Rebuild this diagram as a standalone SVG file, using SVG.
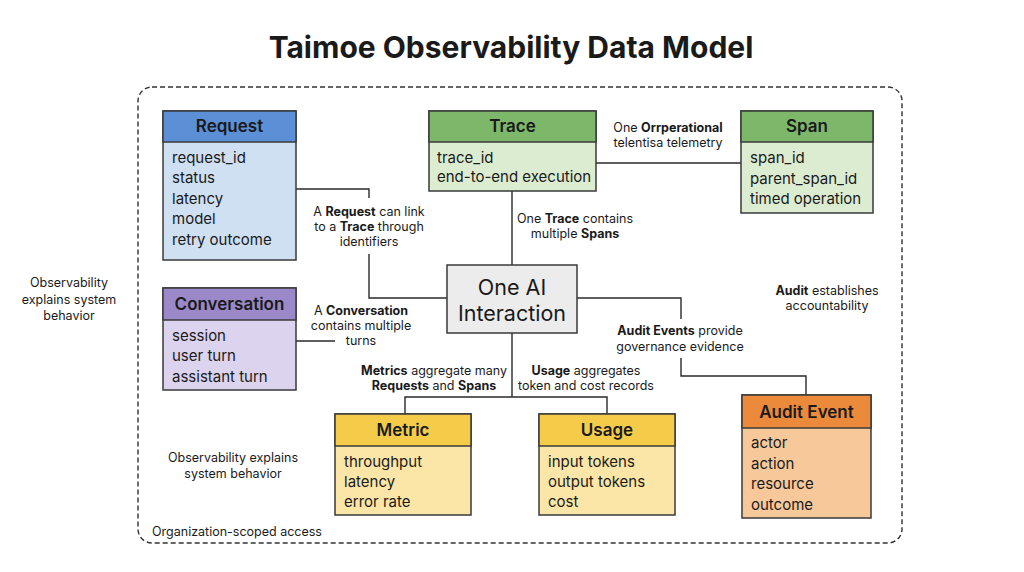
<svg xmlns="http://www.w3.org/2000/svg" width="1024" height="572" viewBox="0 0 1024 572">
<style>
text{font-family:Inter,"Noto Sans","Liberation Sans",sans-serif;fill:#1a1a1a}
.title{font-size:30px;font-weight:700;text-anchor:middle}
.hd{font-size:17px;font-weight:600;text-anchor:middle}
.fd{font-size:15px}
.lb{font-size:12.5px;text-anchor:middle}
.b{font-weight:700}
.box{stroke:#3a3a3a;stroke-width:1.5}
.conn{fill:none;stroke:#2a2a2a;stroke-width:1.4}
</style>
<rect width="1024" height="572" fill="#ffffff"/>
<text class="title" x="511" y="58">Taimoe Observability Data Model</text>
<rect x="138" y="87" width="764" height="456" rx="14" fill="none" stroke="#333" stroke-width="1.4" stroke-dasharray="5,3"/>

<g id="connectors">
<polyline class="conn" points="296,189 369,189 369,198"/>
<polyline class="conn" points="369,254 369,298 447,298"/>
<line class="conn" x1="596" y1="163" x2="741" y2="163"/>
<line class="conn" x1="512" y1="191" x2="512" y2="265"/>
<line class="conn" x1="296" y1="341" x2="335" y2="341"/>
<polyline class="conn" points="512,333 512,397"/>
<polyline class="conn" points="405,414 405,397 607,397 607,414"/>
<polyline class="conn" points="577,298 681,298 681,319"/>
<polyline class="conn" points="681,358 681,376 806,376 806,395"/>
</g>

<g id="labels">
<text class="lb" x="369" y="216">A <tspan class="b">Request</tspan> can link</text>
<text class="lb" x="369" y="231">to a <tspan class="b">Trace</tspan> through</text>
<text class="lb" x="369" y="246">identifiers</text>
<text class="lb" x="668" y="132">One <tspan class="b">Orrperational</tspan></text>
<text class="lb" x="668" y="147">telentisa telemetry</text>
<text class="lb" x="575" y="223">One <tspan class="b">Trace</tspan> contains</text>
<text class="lb" x="575" y="238">multiple <tspan class="b">Spans</tspan></text>
<text class="lb" x="361" y="315">A <tspan class="b">Conversation</tspan></text>
<text class="lb" x="361" y="330">contains multiple</text>
<text class="lb" x="361" y="345">turns</text>
<text class="lb" x="434" y="375"><tspan class="b">Metrics</tspan> aggregate many</text>
<text class="lb" x="434" y="390"><tspan class="b">Requests</tspan> and <tspan class="b">Spans</tspan></text>
<text class="lb" x="586" y="375"><tspan class="b">Usage</tspan> aggregates</text>
<text class="lb" x="586" y="390">token and cost records</text>
<text class="lb" x="680" y="335"><tspan class="b">Audit Events</tspan> provide</text>
<text class="lb" x="680" y="351">governance evidence</text>
<text class="lb" x="827" y="295"><tspan class="b">Audit</tspan> establishes</text>
<text class="lb" x="827" y="310">accountability</text>
<text class="lb" x="69" y="287">Observability</text>
<text class="lb" x="69" y="304">explains system</text>
<text class="lb" x="69" y="320">behavior</text>
<text class="lb" x="233" y="462">Observability explains</text>
<text class="lb" x="233" y="478">system behavior</text>
<text class="lb" x="152" y="536" style="text-anchor:start">Organization-scoped access</text>
</g>

<g id="request">
<rect class="box" x="163" y="111" width="133" height="149" fill="#cfe0f3"/>
<rect class="box" x="163" y="111" width="133" height="31" fill="#5b8fd6"/>
<text class="hd" x="229.5" y="132">Request</text>
<text class="fd" x="172" y="163">request_id</text>
<text class="fd" x="172" y="183">status</text>
<text class="fd" x="172" y="204">latency</text>
<text class="fd" x="172" y="224">model</text>
<text class="fd" x="172" y="245">retry outcome</text>
</g>

<g id="trace">
<rect class="box" x="429" y="111" width="167" height="80" fill="#dbecd1"/>
<rect class="box" x="429" y="111" width="167" height="31" fill="#7db86a"/>
<text class="hd" x="512.5" y="132">Trace</text>
<text class="fd" x="437" y="163">trace_id</text>
<text class="fd" x="437" y="182">end-to-end execution</text>
</g>

<g id="span">
<rect class="box" x="741" y="111" width="132" height="102" fill="#dbecd1"/>
<rect class="box" x="741" y="111" width="132" height="31" fill="#7db86a"/>
<text class="hd" x="807" y="132">Span</text>
<text class="fd" x="750" y="163">span_id</text>
<text class="fd" x="750" y="184">parent_span_id</text>
<text class="fd" x="750" y="204">timed operation</text>
</g>

<g id="conversation">
<rect class="box" x="163" y="288" width="133" height="102" fill="#dcd4ee"/>
<rect class="box" x="163" y="288" width="133" height="32" fill="#9b88c9"/>
<text class="hd" x="229.5" y="310">Conversation</text>
<text class="fd" x="172" y="341">session</text>
<text class="fd" x="172" y="361">user turn</text>
<text class="fd" x="172" y="382">assistant turn</text>
</g>

<g id="interaction">
<rect class="box" x="447" y="265" width="130" height="68" fill="#ececec"/>
<text x="512" y="295" style="font-size:21.5px;text-anchor:middle">One AI</text>
<text x="512" y="321" style="font-size:21.5px;text-anchor:middle">Interaction</text>
</g>

<g id="metric">
<rect class="box" x="335" y="414" width="136" height="101" fill="#fbe6a8"/>
<rect class="box" x="335" y="414" width="136" height="32" fill="#f4cc4a"/>
<text class="hd" x="403" y="436">Metric</text>
<text class="fd" x="344" y="467">throughput</text>
<text class="fd" x="344" y="487">latency</text>
<text class="fd" x="344" y="507">error rate</text>
</g>

<g id="usage">
<rect class="box" x="539" y="414" width="136" height="101" fill="#fbe6a8"/>
<rect class="box" x="539" y="414" width="136" height="32" fill="#f4cc4a"/>
<text class="hd" x="607" y="436">Usage</text>
<text class="fd" x="548" y="467">input tokens</text>
<text class="fd" x="548" y="487">output tokens</text>
<text class="fd" x="548" y="507">cost</text>
</g>

<g id="audit">
<rect class="box" x="742" y="395" width="129" height="123" fill="#f7c89a"/>
<rect class="box" x="742" y="395" width="129" height="33" fill="#ec8a3c"/>
<text class="hd" x="806.5" y="418">Audit Event</text>
<text class="fd" x="751" y="448">actor</text>
<text class="fd" x="751" y="469">action</text>
<text class="fd" x="751" y="489">resource</text>
<text class="fd" x="751" y="510">outcome</text>
</g>
</svg>
